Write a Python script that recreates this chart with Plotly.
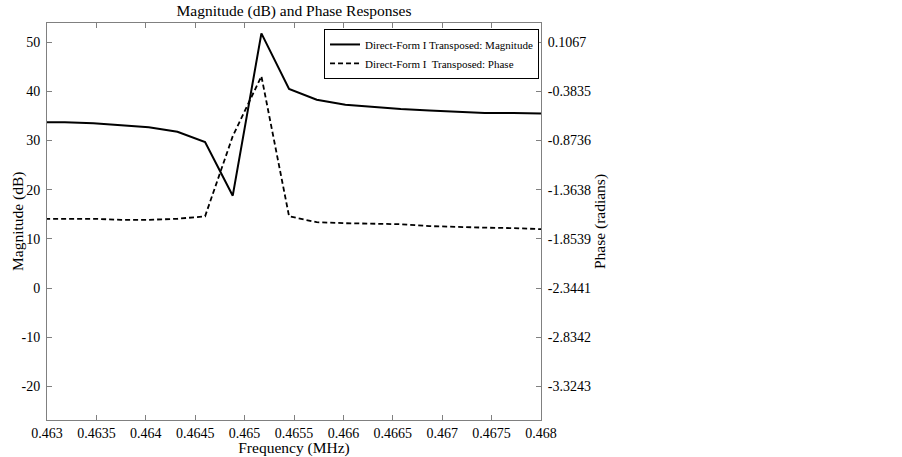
import plotly.graph_objects as go

# Frequency samples (MHz)
freq = [0.4629, 0.46318, 0.46347, 0.46375, 0.46403, 0.46432, 0.4646, 0.46488,
        0.46517, 0.46545, 0.46573, 0.46602, 0.4663, 0.46658, 0.46687, 0.46715,
        0.46743, 0.46772, 0.468]

# Magnitude (dB)
magnitude = [33.7, 33.7, 33.5, 33.1, 32.7, 31.8, 29.7, 18.8,
             51.8, 40.5, 38.3, 37.3, 36.8, 36.4, 36.1, 35.8,
             35.6, 35.6, 35.5]

# Phase (radians)
phase = [-1.653, -1.653, -1.653, -1.663, -1.663, -1.653, -1.628, -0.830,
         -0.232, -1.628, -1.687, -1.697, -1.702, -1.707, -1.726, -1.736,
         -1.741, -1.746, -1.756]

x_ticks = [0.463, 0.4635, 0.464, 0.4645, 0.465, 0.4655, 0.466, 0.4665, 0.467, 0.4675, 0.468]
x_ticktext = ["0.463", "0.4635", "0.464", "0.4645", "0.465", "0.4655", "0.466", "0.4665", "0.467", "0.4675", "0.468"]
mag_ticks = [-20, -10, 0, 10, 20, 30, 40, 50]
mag_ticktext = ["-20", "-10", "0", "10", "20", "30", "40", "50"]
phase_ticks = [-3.3243, -2.8342, -2.3441, -1.8539, -1.3638, -0.8736, -0.3835, 0.1067]
phase_ticktext = ["-3.3243", "-2.8342", "-2.3441", "-1.8539", "-1.3638", "-0.8736", "-0.3835", "0.1067"]

mag_range = [-26.8, 53.9]
# linear map between the two axes (0 dB <-> -2.3441 rad, 50 dB <-> 0.1067 rad)
slope = (0.1067 - (-2.3441)) / 50.0
phase_range = [-2.3441 + mag_range[0] * slope, -2.3441 + mag_range[1] * slope]

FONT = "Liberation Serif, Times New Roman, serif"
AXC = "#808080"
L, R, T, B, W, H = 47, 361, 23, 37, 902, 457
PW = W - L - R

fig = go.Figure()
fig.add_trace(go.Scatter(x=freq, y=magnitude, mode="lines",
                         name="Direct-Form I Transposed: Magnitude",
                         line=dict(color="black", width=2)))
fig.add_trace(go.Scatter(x=freq, y=phase, mode="lines", yaxis="y2",
                         name="Direct-Form I\u00a0 Transposed: Phase",
                         line=dict(color="black", width=1.8, dash="5px,3px")))

fig.add_annotation(text="Magnitude (dB)", xref="paper", yref="paper",
                   x=(17.5 - L) / PW, y=0.5, xanchor="center", yanchor="middle",
                   textangle=-90, showarrow=False,
                   font=dict(size=15.5, family=FONT, color="black"))

fig.update_layout(
    template="none",
    width=W, height=H,
    margin=dict(l=L, r=R, t=T, b=B, autoexpand=False),
    paper_bgcolor="white", plot_bgcolor="white",
    font=dict(family=FONT, size=14, color="black"),
    title=dict(text="Magnitude (dB) and Phase Responses", x=(47 + 541) / 2 / 902,
               xanchor="center", y=1 - 11 / 457, yanchor="middle", yref="container",
               font=dict(size=15.5, family=FONT, color="black")),
    showlegend=True,
    legend=dict(x=0.996, y=0.985, xanchor="right", yanchor="top",
                bgcolor="white", bordercolor="black", borderwidth=1,
                font=dict(size=11, family=FONT, color="black"),
                tracegroupgap=0, itemwidth=30),
    xaxis=dict(range=[0.463, 0.468], tickvals=x_ticks, ticktext=x_ticktext,
               ticks="inside", ticklen=5, tickcolor=AXC, showline=True, linecolor=AXC,
               linewidth=1, mirror="ticks", showgrid=False, zeroline=False,
               automargin=False,
               title=dict(text="Frequency (MHz)", standoff=2, font=dict(size=15.5)),
               tickfont=dict(size=14)),
    yaxis=dict(range=mag_range, tickvals=mag_ticks, ticktext=mag_ticktext,
               ticks="inside", ticklen=5,
               tickcolor=AXC, showline=True, linecolor=AXC, linewidth=1,
               showgrid=False, zeroline=False, ticklabelstandoff=3, automargin=False,
               tickfont=dict(size=14)),
    yaxis2=dict(range=phase_range, tickvals=phase_ticks, ticktext=phase_ticktext,
                overlaying="y", side="right", ticks="inside", ticklen=5,
                tickcolor=AXC, showline=True, linecolor=AXC, linewidth=1,
                showgrid=False, zeroline=False, ticklabelstandoff=3, automargin=False,
                title=dict(text="Phase (radians)", standoff=4, font=dict(size=15.5)),
                tickfont=dict(size=14)),
)

fig.write_html("out.html", config={"displayModeBar": False},
               post_script="document.body.style.margin='0';")
